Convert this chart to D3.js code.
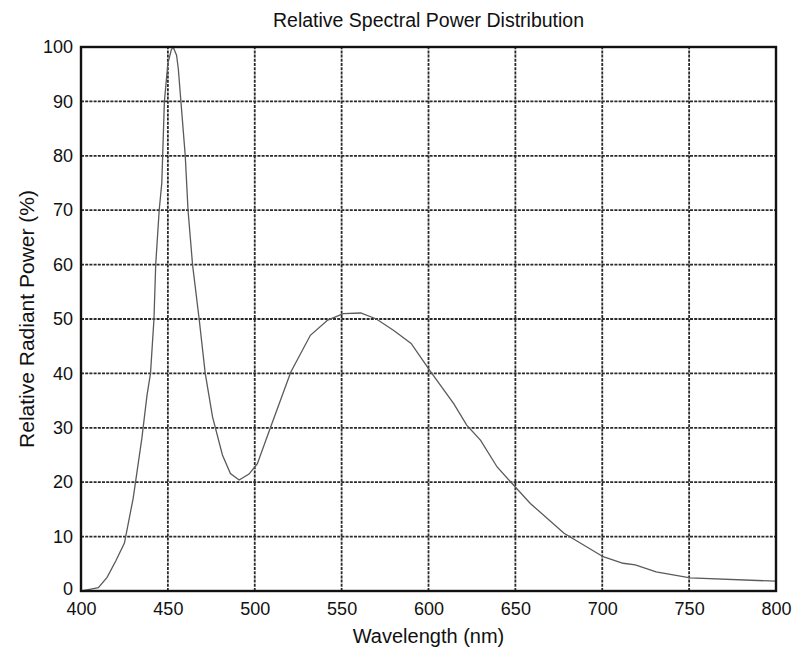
<!DOCTYPE html>
<html>
<head>
<meta charset="utf-8">
<script src="https://cdn.jsdelivr.net/npm/d3@7"></script>
<style>
  body { margin: 0; background: #fff; }
  text { font-family: "Liberation Sans", Arial, sans-serif; fill: #111; }
</style>
</head>
<body>
<svg id="chart"></svg>
<script>
// wavelength (nm) and relative power (%)
const wavelength = [400, 405, 410, 415, 420, 425, 430, 435, 438, 440, 442, 443, 445, 446.5, 447, 448, 450, 452, 453,
  455, 456, 457.5, 460, 461.6, 464.2, 468, 471.5, 475.7, 481.4, 486, 491, 496.7, 501.5, 509, 520.7, 532, 542,
  551, 561, 570, 580, 590, 601, 614.6, 622, 630, 639.5, 648, 658.6, 678, 700.5, 712, 719, 731, 750.6, 800];
const power = [0, 0.3, 0.6, 2.5, 5.5, 8.8, 17, 28, 36, 40, 50, 60, 70, 75, 80, 90, 97, 99.5, 100,
  98.5, 96, 90, 80, 70, 60, 50, 40, 32, 25, 21.6, 20.4, 21.5, 23.4, 30, 40.2, 47, 49.8,
  51, 51.1, 50, 47.9, 45.5, 40.4, 34.4, 30.5, 27.7, 22.8, 19.8, 16.1, 10.6, 6.3, 5.1, 4.8, 3.5, 2.4, 1.8];
const xTicks = [400, 450, 500, 550, 600, 650, 700, 750, 800];
const yTicks = [0, 10, 20, 30, 40, 50, 60, 70, 80, 90, 100];

const width = 795, height = 657;
const margin = { top: 47, right: 19, bottom: 66, left: 81 };

const svg = d3.select("#chart")
  .attr("width", width)
  .attr("height", height);

const x = d3.scaleLinear().domain([400, 800]).range([margin.left, width - margin.right]);
const y = d3.scaleLinear().domain([0, 100]).range([height - margin.bottom, margin.top]);

// grid
const grid = svg.append("g")
  .attr("stroke", "#2a2a2a")
  .attr("stroke-width", 1.8)
  .attr("stroke-dasharray", "3,1.2");

grid.selectAll("line.v")
  .data(xTicks.slice(1, -1))
  .enter().append("line")
  .attr("x1", d => x(d)).attr("x2", d => x(d))
  .attr("y1", y(0)).attr("y2", y(100));

grid.selectAll("line.h")
  .data(yTicks.slice(1, -1))
  .enter().append("line")
  .attr("x1", x(400)).attr("x2", x(800))
  .attr("y1", d => y(d)).attr("y2", d => y(d));

// curve
const pts = wavelength.map((w, i) => [w, power[i]]);
svg.append("path")
  .datum(pts)
  .attr("fill", "none")
  .attr("stroke", "#5a5a5a")
  .attr("stroke-width", 1.3)
  .attr("d", d3.line().x(d => x(d[0])).y(d => y(d[1])));

// frame
svg.append("rect")
  .attr("x", x(400)).attr("y", y(100))
  .attr("width", x(800) - x(400))
  .attr("height", y(0) - y(100))
  .attr("fill", "none")
  .attr("stroke", "#111")
  .attr("stroke-width", 2.4);

// axes
const xAxis = svg.append("g")
  .attr("transform", `translate(0,${y(0)})`)
  .call(d3.axisBottom(x).tickValues(xTicks).tickSize(0).tickPadding(11));
const yAxis = svg.append("g")
  .attr("transform", `translate(${x(400)},0)`)
  .call(d3.axisLeft(y).tickValues(yTicks).tickSize(0).tickPadding(8));

[xAxis, yAxis].forEach(a => {
  a.select(".domain").remove();
  a.selectAll("text")
    .attr("font-family", "Liberation Sans, Arial, sans-serif")
    .attr("font-size", 18)
    .attr("fill", "#111");
});
yAxis.selectAll(".tick text").filter(d => d === 0).attr("dy", "0.2em");

// titles
svg.append("text")
  .attr("x", (x(400) + x(800)) / 2)
  .attr("y", 27)
  .attr("text-anchor", "middle")
  .attr("font-size", 19.5)
  .text("Relative Spectral Power Distribution");

svg.append("text")
  .attr("x", (x(400) + x(800)) / 2)
  .attr("y", 643)
  .attr("text-anchor", "middle")
  .attr("font-size", 20)
  .text("Wavelength (nm)");

svg.append("text")
  .attr("transform", `translate(34,${(y(0) + y(100)) / 2}) rotate(-90)`)
  .attr("text-anchor", "middle")
  .attr("font-size", 21)
  .text("Relative Radiant Power (%)");
</script>
</body>
</html>
